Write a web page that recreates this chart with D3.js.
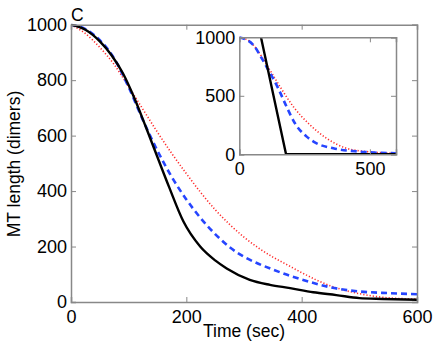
<!DOCTYPE html>
<html><head><meta charset="utf-8">
<script src="https://cdn.jsdelivr.net/npm/d3@7"></script>
<style>body{margin:0;background:#fff}svg{display:block;font-family:"Liberation Sans",Arial,sans-serif}</style>
</head><body><svg id="c" width="436" height="345"></svg>
<script>
// Main panel data
const blackT = [0,25,50,70,90,110,130,150,170,195,224,250,270,310,345,380,420,460,500,540,600];
const blackL = [1000,982,940,891,825,735,630,522,415,290,200,150,121,80,62,50,35,25,14,11,8];
const blueT = [0,25,50,75,100,125,150,175,200,225,250,275,300,325,350,375,400,425,450,475,500,550,600];
const blueL = [1000,984,944,878,775,655,545,450,370,302,245,198,163,138,117,98,81,66,53,44,38,32,28];
const redT = [0,25,50,75,100,125,150,175,200,225,250,275,300,325,350,375,400,425,450,475,500,525,550,575,600];
const redL = [1000,968,918,856,776,694,612,535,463,395,333,280,234,195,162,134,106,80,58,42,30,21,15,12,10];
// Inset data
const inBlackT = [83,179,600];
const inBlackL = [1000,0,0];
const inBlueT = [0,54,86,111,149,181,213,258,296,360,462,600];
const inBlueL = [1000,934,820,721,564,407,265,151,94,51,23,9];
const inRedT = [0,41,86,117,156,207,271,334,411,488,600];
const inRedL = [1000,963,835,721,578,407,251,137,51,23,9];
// Ticks
const mainXTicks = [0,200,400,600];
const mainYTicks = [0,200,400,600,800,1000];
const inXTicks = [0,500];
const inYTicks = [0,500,1000];

const svg = d3.select("#c");
const TFS = 18, LFS = 17.5;
const gray = "#888";

function panel(x0,x1,y0,y1,xt,yt,series,xpad){
  const x = d3.scaleLinear().domain([0,600]).range([x0,x1]);
  const y = d3.scaleLinear().domain([0,1000]).range([y1,y0]);
  const g = svg.append("g");
  g.append("rect").attr("x",x0).attr("y",y0).attr("width",x1-x0).attr("height",y1-y0).attr("fill","#fff");
  const id = "clip"+Math.round(x0);
  svg.append("clipPath").attr("id",id).append("rect").attr("x",x0).attr("y",y0-1).attr("width",x1-x0).attr("height",y1-y0+1);
  const lg = g.append("g").attr("clip-path",`url(#${id})`);
  series.forEach(s=>{
    const line = d3.line().x(d=>x(d[0])).y(d=>y(d[1])).curve(s.linear?d3.curveLinear:d3.curveMonotoneX);
    lg.append("path").datum(d3.zip(s.t,s.l)).attr("d",line).attr("fill","none")
      .attr("stroke",s.c).attr("stroke-width",s.w).attr("stroke-dasharray",s.dash||null)
      .attr("stroke-linejoin","round");
  });
  const tl = 5;
  const bottom = d3.axisBottom(x).tickValues(xt).tickSize(-tl).tickPadding(xpad).tickFormat(d3.format("d"));
  const left = d3.axisLeft(y).tickValues(yt).tickSize(-tl).tickPadding(4).tickFormat(d3.format("d"));
  const top = d3.axisTop(x).tickValues(xt).tickSize(-tl).tickFormat("");
  const right = d3.axisRight(y).tickValues(yt).tickSize(-tl).tickFormat("");
  const ax = [
    g.append("g").attr("transform",`translate(0,${y1})`).call(bottom),
    g.append("g").attr("transform",`translate(${x0},0)`).call(left),
    g.append("g").attr("transform",`translate(0,${y0})`).call(top),
    g.append("g").attr("transform",`translate(${x1},0)`).call(right)
  ];
  ax.forEach(a=>{
    a.select(".domain").attr("stroke",gray).attr("stroke-width",1.5);
    a.selectAll(".tick line").attr("stroke",gray);
    a.selectAll("text").attr("fill","#000").attr("font-size",TFS).attr("font-family","Liberation Sans, Arial, sans-serif");
  });
  return {x,y};
}

panel(71,417,24.7,302,mainXTicks,mainYTicks,[
  {t:redT,l:redL,c:"#ff2a2a",w:1.6,dash:"1.2,2"},
  {t:blueT,l:blueL,c:"#2645ff",w:2.6,dash:"6,4"},
  {t:blackT,l:blackL,c:"#000",w:2.4}
],8);

panel(239.3,396,37.3,154.3,inXTicks,inYTicks,[
  {t:inRedT,l:inRedL,c:"#ff2a2a",w:1.6,dash:"1.2,2"},
  {t:inBlueT,l:inBlueL,c:"#2645ff",w:2.6,dash:"6,4"},
  {t:inBlackT,l:inBlackL,c:"#000",w:2.4,linear:true}
],8);

svg.append("text").attr("x",71).attr("y",21).attr("font-size",LFS).text("C");
svg.append("text").attr("x",244).attr("y",337).attr("text-anchor","middle").attr("font-size",LFS).text("Time (sec)");
svg.append("text").attr("transform","translate(19.5,164) rotate(-90)").attr("text-anchor","middle").attr("font-size",LFS).text("MT length (dimers)");
</script></body></html>
